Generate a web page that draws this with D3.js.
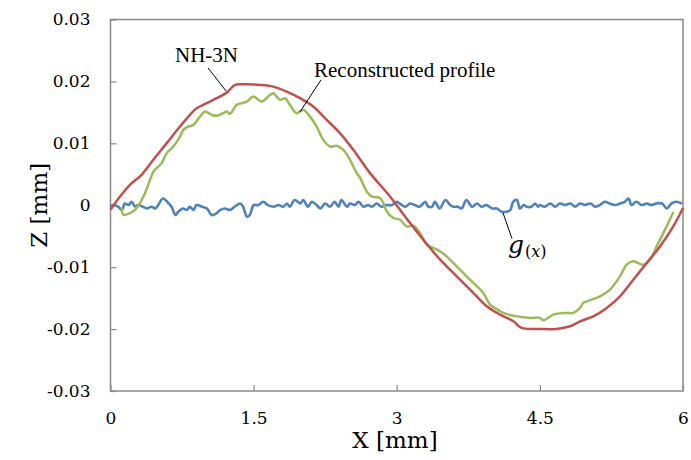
<!DOCTYPE html>
<html><head><meta charset="utf-8">
<script src="https://cdn.jsdelivr.net/npm/d3@7"></script>
<style>body{margin:0;background:#fff}</style>
</head><body>
<svg id="chart" width="691" height="460"></svg>
<script>
const xTicks = [0, 1.5, 3, 4.5, 6];
const yTicks = [-0.03, -0.02, -0.01, 0, 0.01, 0.02, 0.03];

// NH-3N profile [x mm, z mm]
const nh3n = [
 [0.00,-0.00073],[0.10,0.00142],[0.222,0.00358],[0.309,0.00465],[0.449,0.00734],[0.589,0.01003],
 [0.728,0.01271],[0.833,0.01460],[0.903,0.01568],[1.008,0.01648],[1.113,0.01729],[1.218,0.01819],
 [1.305,0.01944],[1.392,0.01955],[1.567,0.01944],[1.706,0.01916],[1.847,0.01835],[1.986,0.01729],
 [2.125,0.01594],[2.266,0.01379],[2.405,0.01165],[2.545,0.00895],[2.720,0.00519],[2.929,0.00142],
 [3.034,-0.00073],[3.139,-0.00287],[3.278,-0.00556],[3.455,-0.00879],[3.628,-0.01148],[3.802,-0.01416],
 [3.943,-0.01632],[4.082,-0.01766],[4.222,-0.01874],[4.309,-0.01981],[4.501,-0.01997],[4.676,-0.01997],
 [4.816,-0.01955],[4.921,-0.01874],[5.060,-0.01794],[5.200,-0.01658],[5.340,-0.01471],[5.479,-0.01202],
 [5.620,-0.00932],[5.759,-0.00665],[5.898,-0.00342],[6.00,-0.00045]
];

// Reconstructed profile [x mm, z mm]
const recon = [
 [0.117,-0.00045],[0.134,-0.00153],[0.204,-0.00126],[0.257,-0.00073],[0.309,0.00035],[0.362,0.00197],
 [0.414,0.00411],[0.449,0.00540],[0.484,0.00600],[0.537,0.00681],[0.589,0.00842],[0.658,0.00948],
 [0.728,0.01110],[0.763,0.01218],[0.815,0.01271],[0.868,0.01298],[0.938,0.01432],[0.990,0.01513],
 [1.061,0.01460],[1.113,0.01444],[1.182,0.01487],[1.218,0.01513],[1.252,0.01476],[1.323,0.01621],
 [1.427,0.01674],[1.497,0.01755],[1.585,0.01674],[1.672,0.01782],[1.706,0.01810],[1.776,0.01702],
 [1.829,0.01729],[1.881,0.01621],[1.951,0.01487],[2.021,0.01540],[2.091,0.01432],[2.161,0.01271],
 [2.230,0.01056],[2.301,0.00948],[2.371,0.00960],[2.440,0.00895],[2.510,0.00734],[2.580,0.00519],
 [2.615,0.00444],[2.685,0.00223],[2.737,0.00142],[2.824,0.00116],[2.859,0.00035],[2.895,-0.00100],
 [2.964,-0.00206],[3.034,-0.00234],[3.104,-0.00342],[3.173,-0.00331],[3.244,-0.00448],[3.314,-0.00637],
 [3.383,-0.00690],[3.453,-0.00745],[3.523,-0.00826],[3.558,-0.00879],[3.663,-0.01040],[3.802,-0.01255],
 [3.907,-0.01416],[3.977,-0.01605],[4.040,-0.01669],[4.117,-0.01739],[4.257,-0.01794],[4.397,-0.01819],
 [4.501,-0.01819],[4.536,-0.01858],[4.641,-0.01766],[4.781,-0.01739],[4.850,-0.01739],[4.921,-0.01658],
 [4.955,-0.01577],[4.991,-0.01552],[5.130,-0.01471],[5.235,-0.01363],[5.340,-0.01148],[5.410,-0.00960],
 [5.479,-0.00906],[5.584,-0.00960],[5.654,-0.00879],[5.724,-0.00665],[5.811,-0.00395],[5.900,-0.00110]
];

// g(x) [x mm, z mm]
const gx = [
 [0.00,-0.00024],[0.03,0.00003],[0.08,-0.00024],[0.12,-0.00077],[0.15,0.00029],[0.19,0.00003],
 [0.22,0.00056],[0.26,-0.00024],[0.29,0.00003],[0.34,-0.00024],[0.38,-0.00052],[0.43,-0.00024],
 [0.47,-0.00052],[0.50,0.00003],[0.55,0.00110],[0.61,0.00029],[0.64,-0.00024],[0.68,-0.00158],
 [0.71,-0.00105],[0.76,-0.00052],[0.80,-0.00077],[0.83,-0.00024],[0.87,-0.00077],[0.90,0.00003],
 [0.96,-0.00024],[1.01,-0.00052],[1.06,-0.00158],[1.11,-0.00132],[1.15,-0.00077],[1.20,-0.00052],
 [1.25,-0.00077],[1.30,-0.00024],[1.36,0.00029],[1.39,-0.00024],[1.43,-0.00185],[1.46,-0.00158],
 [1.50,0.00003],[1.55,0.00003],[1.60,0.00056],[1.65,0.00003],[1.71,-0.00024],[1.76,0.00003],
 [1.81,-0.00024],[1.85,0.00029],[1.88,-0.00024],[1.93,0.00084],[1.99,0.00029],[2.02,0.00084],
 [2.07,-0.00024],[2.11,0.00056],[2.16,0.00003],[2.20,-0.00052],[2.25,0.00029],[2.30,-0.00024],
 [2.35,0.00056],[2.39,-0.00024],[2.42,0.00084],[2.48,-0.00024],[2.51,0.00029],[2.56,0.00003],
 [2.60,0.00056],[2.65,-0.00024],[2.70,0.00003],[2.74,-0.00024],[2.79,0.00029],[2.84,-0.00024],
 [2.89,0.00003],[2.95,0.00003],[3.00,0.00056],[3.03,0.00029],[3.09,-0.00024],[3.14,0.00029],
 [3.19,0.00003],[3.24,-0.00024],[3.30,0.00056],[3.33,-0.00024],[3.37,-0.00024],[3.40,0.00056],
 [3.45,-0.00052],[3.51,0.00084],[3.56,0.00003],[3.59,-0.00024],[3.64,-0.00024],[3.68,-0.00052],
 [3.73,0.00084],[3.79,-0.00024],[3.84,0.00029],[3.89,-0.00024],[3.94,0.00003],[4.00,-0.00052],
 [4.05,-0.00052],[4.10,-0.00105],[4.15,-0.00105],[4.19,-0.00077],[4.22,0.00056],[4.26,0.00084],
 [4.29,-0.00052],[4.33,0.00003],[4.36,-0.00024],[4.41,-0.00024],[4.45,0.00029],[4.48,-0.00024],
 [4.50,0.00003],[4.55,-0.00024],[4.61,0.00029],[4.66,-0.00024],[4.71,0.00029],[4.76,0.00003],
 [4.82,0.00029],[4.87,-0.00024],[4.92,0.00029],[4.97,0.00003],[5.03,0.00029],[5.08,-0.00024],
 [5.13,0.00003],[5.18,0.00056],[5.23,0.00029],[5.29,0.00003],[5.34,0.00029],[5.39,0.00056],
 [5.43,0.00110],[5.46,0.00003],[5.51,0.00056],[5.57,0.00003],[5.62,0.00029],[5.67,0.00003],
 [5.72,0.00029],[5.78,0.00029],[5.83,-0.00052],[5.88,0.00029],[5.93,0.00056],[5.99,0.00029]
];

const svg = d3.select("#chart");
const x = d3.scaleLinear().domain([0,6]).range([110.5, 683]);
const y = d3.scaleLinear().domain([-0.03,0.03]).range([391, 19.5]);

const axisColor = "#898989";
const tickFont = "DejaVu Serif, serif";

// frame
svg.append("rect").attr("x", x(0)).attr("y", y(0.03))
  .attr("width", x(6)-x(0)).attr("height", y(-0.03)-y(0.03))
  .attr("fill","none").attr("stroke",axisColor).attr("stroke-width",1.5);

// y axis
const yAxis = d3.axisLeft(y).tickValues(yTicks).tickSize(-6).tickPadding(20)
  .tickFormat(d => d === 0 ? "0" : d3.format(".2f")(d).replace("\u2212","-"));
const gy = svg.append("g").attr("transform",`translate(${x(0)},0)`).call(yAxis);
gy.select(".domain").remove();
gy.selectAll(".tick line").attr("stroke",axisColor).attr("stroke-width",1.2);
gy.selectAll(".tick text").attr("font-family",tickFont).attr("font-size",17).attr("fill","#000");

// x axis
const xAxis = d3.axisBottom(x).tickValues(xTicks).tickSize(-6).tickPadding(21)
  .tickFormat(d => String(d));
const gxAx = svg.append("g").attr("transform",`translate(0,${y(-0.03)})`).call(xAxis);
gxAx.select(".domain").remove();
gxAx.selectAll(".tick line").attr("stroke",axisColor).attr("stroke-width",1.2);
gxAx.selectAll(".tick text").attr("font-family",tickFont).attr("font-size",17).attr("fill","#000");

// axis titles
svg.append("text").attr("x", 395).attr("y", 448).attr("text-anchor","middle")
  .attr("font-family",tickFont).attr("font-size",23).text("X [mm]");
svg.append("text").attr("transform",`translate(47,${y(0)}) rotate(-90)`).attr("text-anchor","middle")
  .attr("font-family",tickFont).attr("font-size",23).text("Z [mm]");

// lines
const smooth = d3.line().x(d => x(d[0])).y(d => y(d[1])).curve(d3.curveCatmullRom.alpha(0.5));
svg.append("path").datum(gx).attr("d", smooth).attr("fill","none")
  .attr("stroke","#4F81BD").attr("stroke-width",2.6).attr("stroke-linejoin","round");
svg.append("path").datum(recon).attr("d", smooth).attr("fill","none")
  .attr("stroke","#9BBB59").attr("stroke-width",2.5).attr("stroke-linejoin","round");
svg.append("path").datum(nh3n).attr("d", smooth).attr("fill","none")
  .attr("stroke","#C0504D").attr("stroke-width",2.5).attr("stroke-linejoin","round");

// annotations (data coordinates)
const labelFont = "Liberation Serif, Times New Roman, serif";
const leaders = [
  [[1.022,0.02218],[1.210,0.01847]],
  [[2.206,0.02024],[1.986,0.01508]],
  [[4.113,-0.00121],[4.208,-0.00540]]
];
leaders.forEach(l => svg.append("line")
  .attr("x1",x(l[0][0])).attr("y1",y(l[0][1])).attr("x2",x(l[1][0])).attr("y2",y(l[1][1]))
  .attr("stroke","#000").attr("stroke-width",1));
svg.append("text").attr("x",x(0.676)).attr("y",y(0.02315)).attr("font-family",labelFont)
  .attr("font-size",21).text("NH-3N");
svg.append("text").attr("x",x(2.133)).attr("y",y(0.02073)).attr("font-family",labelFont)
  .attr("font-size",21).text("Reconstructed profile");
const gt = svg.append("text").attr("x",x(4.166)).attr("y",y(-0.00766)).attr("font-family",tickFont);
gt.append("tspan").attr("font-size",25).attr("font-style","italic").text("g");
gt.append("tspan").attr("font-size",16).attr("dy",4).attr("dx",1).text("(");
gt.append("tspan").attr("font-size",16).attr("font-style","italic").text("x");
gt.append("tspan").attr("font-size",16).text(")");
</script>
</body></html>
